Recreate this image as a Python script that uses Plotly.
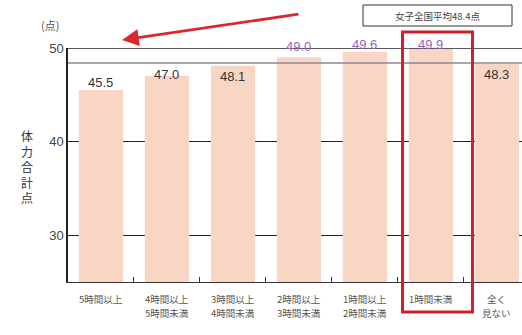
import plotly.graph_objects as go

# Daily TV/game time vs. physical fitness total score (girls)
categories = ["5時間以上", "4時間以上<br>5時間未満", "3時間以上<br>4時間未満",
              "2時間以上<br>3時間未満", "1時間以上<br>2時間未満", "1時間未満",
              "全く<br>見ない"]
scores = [45.5, 47.0, 48.1, 49.0, 49.6, 49.9, 48.3]
national_avg = 48.4
y_ticks = [30, 40, 50]

# label styling per bar
label_colors = ["#333333", "#333333", "#333333", "#9a62bf", "#9a62bf", "#9a62bf", "#333333"]
label_shift = [8, 2, -11, 11, 7, 4, -11]

FONT = "Noto Sans CJK JP"
L, T, R, B = 68, 48, 0, 53
W, H = 522, 335
pw, ph = W - L - R, H - T - B


def px(xp):
    return (xp - L) / pw


def py(yp):
    return (H - B - yp) / ph


fig = go.Figure()
fig.add_trace(go.Bar(
    x=categories, y=scores,
    marker=dict(color="#f9d6c3", line=dict(width=0)),
    width=0.67, hoverinfo="skip",
))

annotations = []
for i, (v, c, s) in enumerate(zip(scores, label_colors, label_shift)):
    annotations.append(dict(
        x=i, y=v, xref="x", yref="y", text=f"{v:.1f}", showarrow=False,
        yshift=s, yanchor="middle", xanchor="center",
        font=dict(family="Liberation Sans, Arial", size=13, color=c),
    ))

# category labels, one text per line for wider line spacing
for i, cat in enumerate(categories):
    for j, part in enumerate(cat.split("<br>")):
        annotations.append(dict(
            x=i, y=py(299 + 14 * j), xref="x", yref="paper", text=part,
            showarrow=False, xanchor="center", yanchor="middle",
            font=dict(family=FONT, size=9.5, color="#555555"),
        ))

# unit label and vertical axis title
annotations.append(dict(x=px(50), y=py(25), xref="paper", yref="paper",
                        xanchor="center", yanchor="middle",
                        text="(点)", showarrow=False,
                        font=dict(family=FONT, size=11, color="#555555")))
annotations.append(dict(x=px(27), y=py(166), xref="paper", yref="paper",
                        xanchor="center", yanchor="middle",
                        text="体<br>力<br>合<br>計<br>点", showarrow=False,
                        font=dict(family=FONT, size=12, color="#333333")))

# national average legend box
annotations.append(dict(x=px(437.5), y=py(15.5), xref="paper", yref="paper",
                        xanchor="center", yanchor="middle",
                        text=f"女子全国平均{national_avg}点", showarrow=False,
                        font=dict(family=FONT, size=9.5, color="#444444")))

# red arrow pointing left
annotations.append(dict(x=px(122), y=py(40), xref="paper", yref="paper",
                        ax=178, ay=-26, text="", showarrow=True,
                        arrowhead=2, arrowsize=1.2, arrowwidth=2.8,
                        arrowcolor="#d62a2e"))

shapes = [
    # top frame line at 50
    dict(type="line", xref="paper", yref="y", x0=0, x1=1, y0=50, y1=50,
         line=dict(color="#222222", width=1.5), layer="above"),
    # national average line
    dict(type="line", xref="paper", yref="y", x0=0, x1=1,
         y0=national_avg, y1=national_avg,
         line=dict(color="#8e8499", width=1.5), layer="above"),
    # legend box frame
    dict(type="rect", xref="paper", yref="paper",
         x0=px(363), x1=px(512), y0=py(26), y1=py(5),
         line=dict(color="#333333", width=1), fillcolor="rgba(0,0,0,0)"),
    # highlight around the "1時間未満" group
    dict(type="rect", xref="paper", yref="paper",
         x0=px(402.5), x1=px(472.5), y0=py(312), y1=py(32),
         line=dict(color="#d0202a", width=3), fillcolor="rgba(0,0,0,0)",
         layer="above"),
]

fig.update_layout(
    width=W, height=H,
    margin=dict(l=L, r=R, t=T, b=B),
    paper_bgcolor="white", plot_bgcolor="white",
    showlegend=False,
    annotations=annotations, shapes=shapes,
    xaxis=dict(
        type="category", tickson="boundaries", range=[-0.5, 6.38],
        showgrid=False, zeroline=False, showticklabels=False,
        showline=True, linecolor="#333333", linewidth=1.2,
        ticks="inside", ticklen=5, tickcolor="#333333",
    ),
    yaxis=dict(
        range=[25, 50], tickvals=y_ticks,
        showgrid=True, gridcolor="#222222", gridwidth=1.3,
        zeroline=False, showline=True, linecolor="#222222", linewidth=1.5,
        ticks="", tickfont=dict(family="Liberation Sans, Arial", size=13,
                                color="#444444"),
    ),
)

fig.write_html("out.html")
